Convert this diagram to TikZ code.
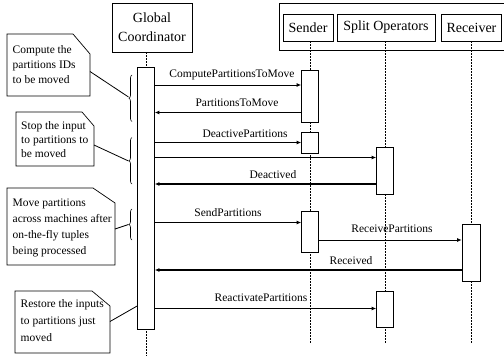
\documentclass[tikz,border=0pt]{standalone}
\usepackage{fontspec}
\setmainfont{Liberation Serif}
\usetikzlibrary{arrows.meta,decorations.pathreplacing}
\tikzset{
  hdr/.style={draw, line width=0.7pt, inner sep=0pt, font=\fontsize{14}{19}\selectfont, align=center},
  bar/.style={draw, fill=white, line width=0.7pt, minimum width=17pt, inner sep=0pt},
  life/.style={line width=0.9pt, dash pattern=on 2pt off 1pt},
  msg/.style={line width=0.9pt, -{Latex[length=4.5pt,width=4pt]}},
  rmsg/.style={line width=1.3pt, -{Latex[length=4.5pt,width=4pt]}},
  lbl/.style={font=\fontsize{11.5}{13}\selectfont, inner sep=0pt},
  notebox/.style={draw, line width=0.7pt, fill=white},
  notetxt/.style={font=\fontsize{11.5}{14}\selectfont, align=left, inner sep=0pt, anchor=west},
  brc/.style={decorate, decoration={brace, amplitude=3pt}, line width=0.6pt},
  lnk/.style={line width=0.8pt}
}
\begin{document}
\begin{tikzpicture}[x=1pt,y=-1pt]
\useasboundingbox (0,0) rectangle (504,356);

% headers
\node[hdr, minimum width=80pt, minimum height=49pt] (gc) at (152,27.5) {Global\\Coordinator};
\draw[line width=0.7pt] (279,3) -- (506,3) (279,3) -- (279,50) -- (506,50);
\node[hdr, minimum width=50pt, minimum height=27pt] (snd) at (308,27.5) {Sender};
\node[hdr, minimum width=98pt, minimum height=27pt] (spl) at (386,27.5) {Split Operators};
\node[hdr, minimum width=60pt, minimum height=27pt] (rcv) at (471.5,27.5) {Receiver};

% lifelines (behind bars)
\coordinate (gcend) at (146,356);
\coordinate (sndend) at (310,344);
\coordinate (splend) at (385,344);
\coordinate (rcvend) at (471,344);
\draw[life] (gc.south -| 146,0) -- (gcend);
\draw[life] (snd.south -| 310,0) -- (sndend);
\draw[life] (spl.south -| 385,0) -- (splend);
\draw[life] (rcv.south -| 471,0) -- (rcvend);

% activation bars
\node[bar, minimum height=262pt] (gcbar) at (146,198) {};
\node[bar, minimum height=52pt] (s1) at (310,96) {};
\node[bar, minimum height=21pt] (s2) at (310,142.5) {};
\node[bar, minimum height=41pt] (s3) at (310,231.5) {};
\node[bar, minimum height=47pt] (p1) at (385,170.5) {};
\node[bar, minimum height=36pt] (p2) at (385,309) {};
\node[bar, minimum height=57pt, minimum width=18pt] (r1) at (471,252.5) {};

% messages
\draw[msg] (gcbar.east |- 0,85) -- (s1.west |- 0,85);
\node[lbl] (m1) at (232,75) {ComputePartitionsToMove};
\draw[msg] (s1.west |- 0,112.5) -- (gcbar.east |- 0,112.5);
\node[lbl] (m2) at (237,103) {PartitionsToMove};
\draw[msg] (gcbar.east |- 0,142.5) -- (s2.west |- 0,142.5);
\node[lbl] (m3) at (245,133.5) {DeactivePartitions};
\draw[msg] (gcbar.east |- 0,157.5) -- (p1.west |- 0,157.5);
\draw[rmsg] (p1.west |- 0,184) -- (gcbar.east |- 0,184);
\node[lbl] (m5) at (273,175) {Deactived};
\draw[msg] (gcbar.east |- 0,222.5) -- (s3.west |- 0,222.5);
\node[lbl] (m6) at (228,213) {SendPartitions};
\draw[msg] (s3.east |- 0,240) -- (r1.west |- 0,240);
\node[lbl] (m7) at (392,229) {ReceivePartitions};
\draw[rmsg] (r1.west |- 0,270) -- (gcbar.east |- 0,270);
\node[lbl] (m8) at (351,261) {Received};
\draw[msg] (gcbar.east |- 0,308.5) -- (p2.west |- 0,308.5);
\node[lbl] (m9) at (261,297.5) {ReactivatePartitions};

% notes
\draw[notebox] (7,34) -- (73,34) -- (90,54) -- (90,96) -- (7,96) -- cycle;
\node[notetxt, font=\fontsize{11.5}{15}\selectfont] (n1) at (12.5,65) {Compute the\\partitions IDs\\to be moved};
\draw[notebox] (16,112) -- (82,112) -- (94,126) -- (94,166) -- (16,166) -- cycle;
\node[notetxt] (n2) at (21,140) {Stop the input\\to partitions to\\be moved};
\draw[notebox] (7,188) -- (93,188) -- (115,203) -- (115,265) -- (7,265) -- cycle;
\node[notetxt, font=\fontsize{11.5}{16}\selectfont] (n3) at (12.5,227.5) {Move partitions\\across machines after\\on-the-fly tuples\\being processed};
\draw[notebox] (15,291) -- (92,291) -- (110,306) -- (110,353) -- (15,353) -- cycle;
\node[notetxt, font=\fontsize{11.5}{17}\selectfont] (n4) at (20.5,321) {Restore the inputs\\to partitions just\\moved};

% braces
\draw[brc] (132,121.5) -- (132,75);
\draw[brc] (132,184) -- (132,137.5);
\draw[brc] (132,240) -- (132,209);
\coordinate (b1) at (128.5,97);
\coordinate (b2) at (128.5,161);
\coordinate (b3) at (128.5,224.5);
\coordinate (c1) at (90,71.5);
\coordinate (c2) at (94,145);
\coordinate (c3) at (115,229);
\coordinate (c4) at (110,321.5);
\draw[lnk] (c1) -- (b1);
\draw[lnk] (c2) -- (b2);
\draw[lnk] (c3) -- (b3);
\draw[lnk] (c4) -- (gcbar.west |- 0,306);
\end{tikzpicture}
\end{document}
